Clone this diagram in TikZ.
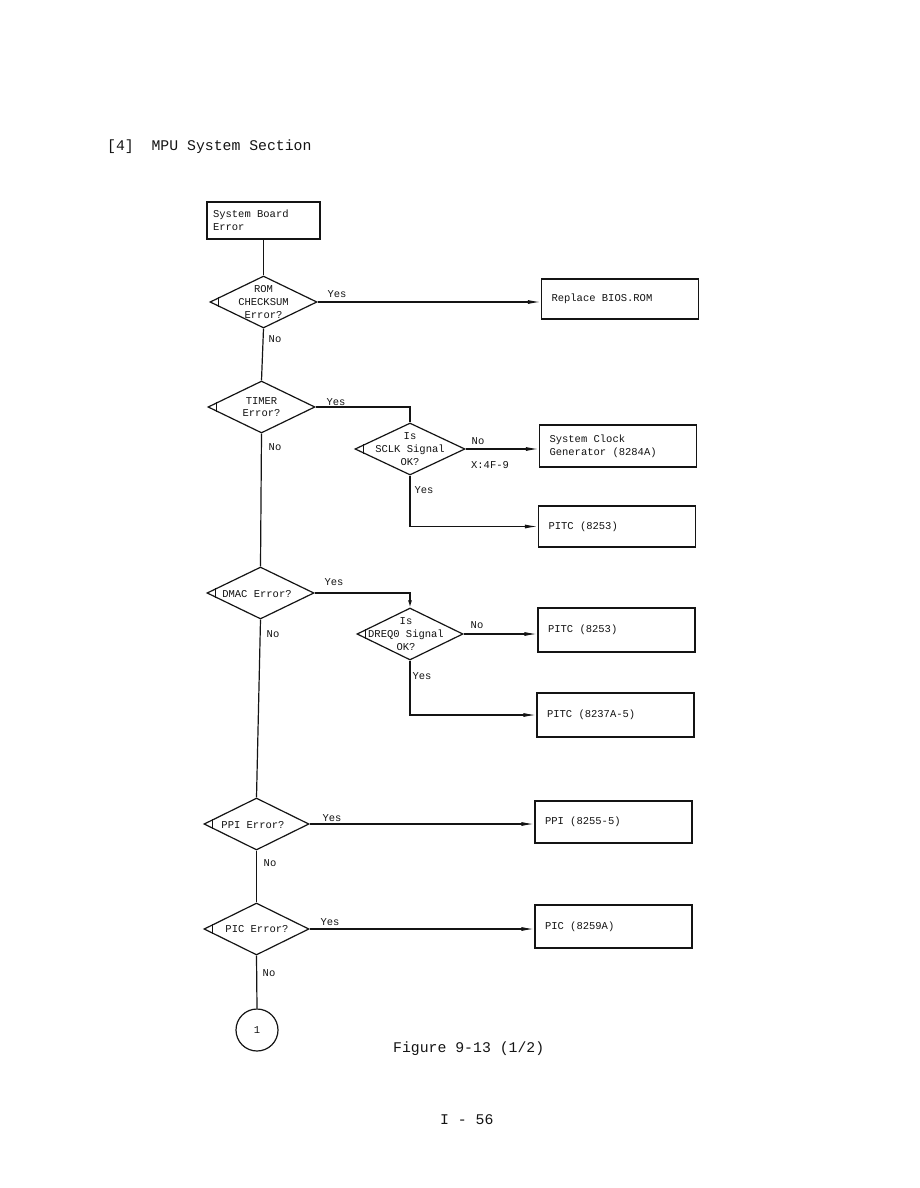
\documentclass[tikz,border=0pt]{standalone}
\usepackage{fontspec}
\setmainfont[WordSpace={1,0,0}]{Liberation Mono}
\usepackage{tikz}
\usetikzlibrary{arrows.meta,calc,shapes.geometric}
\definecolor{inkblack}{RGB}{20,20,20}
\newcommand{\chartsmall}{\fontsize{10.5}{12.8}\selectfont}
\newcommand{\chartlarge}{\fontsize{14.8}{17}\selectfont}
\newcommand{\fixedspaces}{\spaceskip=0pt\relax\xspaceskip=0pt\relax}
\tikzset{
  chartline/.style={line width=1.2pt,draw=inkblack},
  flow/.style={chartline,-{Latex[length=13pt,width=4pt]}},
  shortflow/.style={chartline,-{Latex[length=7pt,width=4pt]}},
  decision/.style={diamond,draw=inkblack,line width=1.2pt,
    minimum width=107pt,minimum height=52pt,inner sep=0pt},
  decisiontext/.style={font=\chartsmall,text=inkblack,align=center,inner sep=0pt},
  resultbox/.style={draw=inkblack,line width=1.2pt,minimum height=42pt,
    text width=137pt,inner xsep=10pt,align=left,font=\chartsmall,text=inkblack},
  startbox/.style={resultbox,minimum height=37pt,text width=101pt,inner xsep=6pt},
  connector/.style={circle,draw=inkblack,line width=1.2pt,minimum size=42pt,
    inner sep=0pt,font=\chartsmall,text=inkblack},
  branchlabel/.style={font=\chartsmall,text=inkblack,inner sep=0pt},
  pagetext/.style={font=\chartlarge,text=inkblack,anchor=west,inner sep=0pt}
}

\begin{document}
\begin{tikzpicture}[x=1pt,y=-1pt]
  \path[use as bounding box,fill=white] (0,0) rectangle (919,1188);

  \node[pagetext] (title) at (107,147) {[4]~~MPU System Section};

  % main column
  \node[startbox] (sbe) at (263.5,220.5) {\fixedspaces System Board\\Error};
  \node[decision] (d1) at (263.5,302) {};
  \node[decisiontext] (t1) at (d1) {ROM\\CHECKSUM\\Error?};
  \node[decision] (d2) at (261.5,407) {};
  \node[decisiontext] (t2) at (d2) {TIMER\\Error?};
  \node[decision] (d4) at (260.5,593) {};
  \node[decisiontext] (t4) at (257,594) {DMAC Error?};
  \node[decision,minimum width=105pt] (d6) at (256.5,824) {};
  \node[decisiontext] (t6) at (253,825) {PPI Error?};
  \node[decision,minimum width=105pt] (d7) at (256.5,929) {};
  \node[decisiontext] (t7) at (257,929) {PIC Error?};
  \node[connector] (c1) at (257,1030) {1};

  % sub decisions
  \node[decision,minimum width=110pt] (d3) at (410,449) {};
  \node[decisiontext] (t3) at (d3) {Is\\SCLK Signal\\OK?};
  \node[decision,minimum width=106pt] (d5) at (410,634) {};
  \node[decisiontext] (t5) at (406,634) {Is\\DREQ0 Signal\\OK?};

  % results
  \node[resultbox,minimum height=40pt] (bios) at (620,299) {\fixedspaces Replace BIOS.ROM};
  \node[resultbox] (clk) at (618,446) {\fixedspaces System Clock\\Generator (8284A)};
  \node[resultbox,minimum height=41pt] (pitca) at (617,526.5) {\fixedspaces PITC (8253)};
  \node[resultbox,minimum height=44pt] (pitcb) at (616.5,630) {\fixedspaces PITC (8253)};
  \node[resultbox,minimum height=44pt] (pitcc) at (615.5,715) {\fixedspaces PITC (8237A-5)};
  \node[resultbox] (ppi) at (613.5,822) {\fixedspaces PPI (8255-5)};
  \node[resultbox,minimum height=43pt] (pic) at (613.5,926.5) {\fixedspaces PIC (8259A)};

  % left corner ticks of the decisions
  \foreach \d in {d1,d2,d3,d4,d5,d6,d7}
    \draw[chartline,line width=0.9pt] ($(\d.west)!0.17!(\d.north)$) -- ($(\d.west)!0.17!(\d.south)$);

  % connectors
  \draw[chartline] (sbe.south) -- (d1.north);
  \draw[flow] (d1.east) -- (d1.east -| bios.west);
  \draw[chartline] (d1.south) -- (d2.north);
  \draw[chartline] (d2.east) -| (d3.north);
  \draw[flow] (d3.east) -- (d3.east -| clk.west);
  \draw[flow] (d3.south) |- (pitca.west);
  \draw[chartline] (d2.south) -- (d4.north);
  \draw[shortflow] (d4.east) -| (d5.north);
  \draw[flow] (d5.east) -- (d5.east -| pitcb.west);
  \draw[flow] (d5.south) |- (pitcc.west);
  \draw[chartline] (d4.south) -- (d6.north);
  \draw[flow] (d6.east) -- (d6.east -| ppi.west);
  \draw[chartline] (d6.south) -- (d7.north);
  \draw[flow] (d7.east) -- (d7.east -| pic.west);
  \draw[chartline] (d7.south) -- (c1.north);

  % branch labels
  \node[branchlabel] (y1) at (337,294) {Yes};
  \node[branchlabel] (n1) at (275,339) {No};
  \node[branchlabel] (y2) at (336,402) {Yes};
  \node[branchlabel] (n2) at (275,447) {No};
  \node[branchlabel] (n3) at (478,441) {No};
  \node[branchlabel] (x3) at (490,465) {X:4F-9};
  \node[branchlabel] (y3) at (424,490) {Yes};
  \node[branchlabel] (y4) at (334,582) {Yes};
  \node[branchlabel] (n4) at (273,634) {No};
  \node[branchlabel] (n5) at (477,625) {No};
  \node[branchlabel] (y5) at (422,676) {Yes};
  \node[branchlabel] (y6) at (332,818) {Yes};
  \node[branchlabel] (n6) at (270,863) {No};
  \node[branchlabel] (y7) at (330,922) {Yes};
  \node[branchlabel] (n7) at (269,973) {No};

  \node[pagetext] (caption) at (393,1049) {Figure 9-13 (1/2)};
  \node[pagetext] (pageno) at (440,1120) {I - 56};
\end{tikzpicture}
\end{document}
